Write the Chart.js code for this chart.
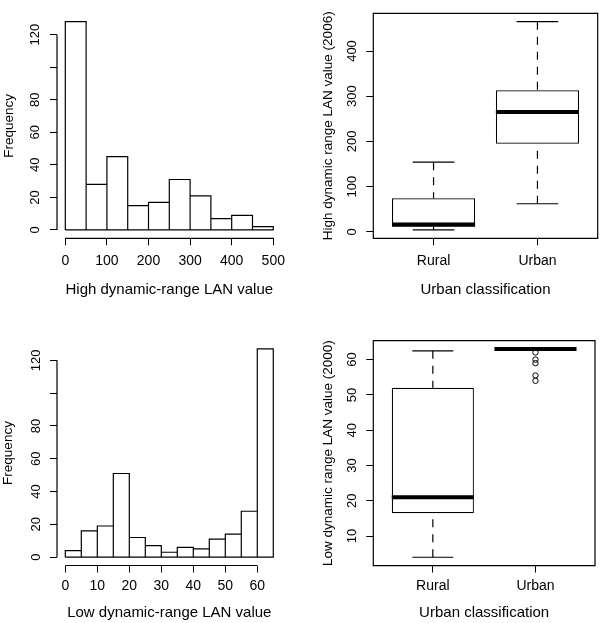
<!DOCTYPE html>
<html>
<head>
<meta charset="utf-8">
<script src="https://cdn.jsdelivr.net/npm/chart.js@4.4.1/dist/chart.umd.min.js"></script>
<style>
  body { margin: 0; background: #fff; }
  #wrap { position: relative; width: 600px; height: 623px; background: #fff; }
  canvas { position: absolute; }
</style>
</head>
<body>
<div id="wrap">
  <canvas id="histHigh" width="300" height="305" style="left:0;top:0"></canvas>
  <canvas id="boxHigh" width="300" height="305" style="left:300px;top:0"></canvas>
  <canvas id="histLow" width="300" height="318" style="left:0;top:305px"></canvas>
  <canvas id="boxLow" width="300" height="318" style="left:300px;top:305px"></canvas>
</div>
<script>
// histogram, high dynamic-range LAN
const highBreaks = [0, 50, 100, 150, 200, 250, 300, 350, 400, 450, 500];
const highCounts = [128, 28, 45, 15, 17, 31, 21, 7, 9, 2];
const highXTicks = [0, 100, 200, 300, 400, 500];

// histogram, low dynamic-range LAN
const lowBreaks = [0, 5, 10, 15, 20, 25, 30, 35, 40, 45, 50, 55, 60, 65];
const lowCounts = [4, 16, 19, 51, 12, 7, 3, 6, 5, 11, 14, 28, 127];
const lowXTicks = [0, 10, 20, 30, 40, 50, 60];

const freqTicks = [0, 20, 40, 60, 80, 100, 120];
const freqTickLabels = ['0', '20', '40', '60', '80', '', '120'];

// boxplots by urban classification
const groups = ['Rural', 'Urban'];

const highLower = [4, 62];
const highQ1 = [11, 195];
const highMedian = [16, 265];
const highQ3 = [74, 313];
const highUpper = [154, 465];
const highOut = [[], []];
const highYTicks = [0, 100, 200, 300, 400];

const lowLower = [4, 63];
const lowQ1 = [16.5, 63];
const lowMedian = [21, 63];
const lowQ3 = [52, 63];
const lowUpper = [62.5, 63];
const lowOut = [[], [62, 60, 59, 55.5, 54]];
const lowYTicks = [10, 20, 30, 40, 50, 60];

const FONT = '"Liberation Sans", Arial, Helvetica, sans-serif';

// R pads the data range by 4% on each side
function padRange(lo, hi) {
  const d = (hi - lo) * 0.04;
  return [lo - d, hi + d];
}

// R style axes: line only between first and last tick, or a full box
function rAxes(frame) {
  return {
    id: 'rAxes',
    afterDraw(chart) {
      const ctx = chart.ctx, a = chart.chartArea;
      const x = chart.scales.x, y = chart.scales.y;
      ctx.save();
      ctx.strokeStyle = '#000';
      ctx.lineWidth = 1.2;
      ctx.beginPath();
      if (frame) {
        ctx.rect(a.left, a.top, a.right - a.left, a.bottom - a.top);
      } else {
        const xt = x.ticks, yt = y.ticks;
        ctx.moveTo(x.getPixelForValue(xt[0].value), a.bottom);
        ctx.lineTo(x.getPixelForValue(xt[xt.length - 1].value), a.bottom);
        ctx.moveTo(a.left, y.getPixelForValue(yt[0].value));
        ctx.lineTo(a.left, y.getPixelForValue(yt[yt.length - 1].value));
      }
      ctx.stroke();
      ctx.restore();
    }
  };
}

function axis(dir, range, ticks, labels, title, lay) {
  const isX = dir === 'x';
  return {
    type: 'linear',
    position: isX ? 'bottom' : 'left',
    min: range[0],
    max: range[1],
    offset: false,
    afterBuildTicks: s => { s.ticks = ticks.map(v => ({ value: v })); },
    afterFit: s => { if (isX) s.height = lay.xHeight; else s.width = lay.yWidth; },
    border: { display: false },
    grid: { display: true, offset: false, drawOnChartArea: false, drawTicks: true, tickLength: 7, color: '#000', lineWidth: 1 },
    ticks: {
      autoSkip: false,
      color: '#000',
      font: { family: FONT, size: isX ? 14 : 13 },
      padding: isX ? lay.xTickPad : lay.yTickPad,
      minRotation: isX ? 0 : 90,
      maxRotation: isX ? 0 : 90,
      crossAlign: isX ? 'near' : 'center',
      callback: (v, i) => labels[i]
    },
    title: {
      display: true,
      text: title,
      color: '#000',
      font: { family: FONT, size: isX ? 15 : 13.5 },
      padding: isX ? { top: 0, bottom: lay.xTitlePad } : { top: lay.yTitlePad, bottom: 0 }
    }
  };
}

function common(lay, scales) {
  return {
    responsive: false,
    animation: false,
    devicePixelRatio: 1,
    events: [],
    layout: { padding: { top: lay.top, right: lay.right, left: 0, bottom: 0 } },
    plugins: { legend: { display: false }, tooltip: { enabled: false } },
    scales: scales
  };
}

function histogram(id, breaks, counts, xTicks, xTitle, lay) {
  const centers = counts.map((c, i) => (breaks[i] + breaks[i + 1]) / 2);
  const xr = padRange(breaks[0], breaks[breaks.length - 1]);
  const yr = padRange(0, Math.max(...counts));
  // outline of the bars, so that shared edges get a single line
  const edge = [{ x: breaks[0], y: 0 }];
  counts.forEach((c, i) => {
    edge.push({ x: breaks[i], y: c }, { x: breaks[i + 1], y: c }, { x: breaks[i + 1], y: 0 });
  });
  edge.push({ x: breaks[0], y: 0 });
  new Chart(document.getElementById(id), {
    type: 'bar',
    data: {
      datasets: [
        { data: counts.map((c, i) => ({ x: centers[i], y: c })), backgroundColor: '#fff',
          borderWidth: 0, barPercentage: 1, categoryPercentage: 1, order: 2 },
        { type: 'line', data: edge, borderColor: '#000', borderWidth: 1.2, borderJoinStyle: 'miter',
          pointRadius: 0, pointHitRadius: 0, fill: false, tension: 0, order: 1 }
      ]
    },
    options: common(lay, {
      x: axis('x', xr, xTicks, xTicks.map(String), xTitle, lay),
      y: axis('y', yr, freqTicks, freqTickLabels, 'Frequency', lay)
    }),
    plugins: [rAxes(false)]
  });
}

function boxplot(id, lower, q1, med, q3, upper, outs, yTicks, yTitle, lay) {
  const xs = groups.map((g, i) => i + 1);
  const all = lower.concat(upper, ...outs);
  const yr = padRange(Math.min(...all), Math.max(...all));
  const xr = padRange(0.5, groups.length + 0.5);
  const boxes = [], whisk = [], caps = [], meds = [], pts = [];
  xs.forEach((x, i) => {
    boxes.push({ x: x, y: [q1[i], q3[i]] });
    whisk.push({ x: x, y: upper[i] }, { x: x, y: q3[i] }, { x: x, y: null },
               { x: x, y: lower[i] }, { x: x, y: q1[i] }, { x: x, y: null });
    caps.push({ x: x - 0.2, y: upper[i] }, { x: x + 0.2, y: upper[i] }, { x: x, y: null },
              { x: x - 0.2, y: lower[i] }, { x: x + 0.2, y: lower[i] }, { x: x, y: null });
    meds.push({ x: x - 0.4, y: med[i] }, { x: x + 0.4, y: med[i] }, { x: x, y: null });
    outs[i].forEach(v => pts.push({ x: x, y: v }));
  });
  const line = { type: 'line', borderColor: '#000', pointRadius: 0, pointHitRadius: 0, fill: false, tension: 0 };
  new Chart(document.getElementById(id), {
    type: 'bar',
    data: {
      datasets: [
        { data: boxes, backgroundColor: '#fff', borderColor: '#000', borderWidth: 1.2, borderSkipped: false,
          inflateAmount: 0, barPercentage: 0.8, categoryPercentage: 1, order: 4 },
        Object.assign({}, line, { data: whisk, borderWidth: 1.2, borderDash: [8, 7], order: 3 }),
        Object.assign({}, line, { data: caps, borderWidth: 1.2, order: 2 }),
        Object.assign({}, line, { data: meds, borderWidth: 4, borderCapStyle: 'butt', order: 1 }),
        { type: 'scatter', data: pts, pointRadius: 2.7, pointStyle: 'circle', pointBorderWidth: 1,
          pointBorderColor: '#000', pointBackgroundColor: 'rgba(255,255,255,0)', order: 0 }
      ]
    },
    options: common(lay, {
      x: axis('x', xr, xs, groups, 'Urban classification', lay),
      y: axis('y', yr, yTicks, yTicks.map(String), yTitle, lay)
    }),
    plugins: [rAxes(true)]
  });
}

histogram('histHigh', highBreaks, highCounts, highXTicks, 'High dynamic-range LAN value',
  { top: 13.3, right: 18.4, xHeight: 66.7, yWidth: 57, xTickPad: 7.8, xTitlePad: 6, yTickPad: 3.6, yTitlePad: 0.9 });

boxplot('boxHigh', highLower, highQ1, highMedian, highQ3, highUpper, highOut, highYTicks,
  'High dynamic range LAN value (2006)',
  { top: 13.3, right: 2.3, xHeight: 66.7, yWidth: 73.3, xTickPad: 7.8, xTitlePad: 6, yTickPad: 2.7, yTitlePad: 20.2 });

histogram('histLow', lowBreaks, lowCounts, lowXTicks, 'Low dynamic-range LAN value',
  { top: 35.5, right: 18.4, xHeight: 57.5, yWidth: 57, xTickPad: 5.1, xTitlePad: 0.7, yTickPad: 2.4, yTitlePad: 0 });

boxplot('boxLow', lowLower, lowQ1, lowMedian, lowQ3, lowUpper, lowOut, lowYTicks,
  'Low dynamic range LAN value (2000)',
  { top: 35.7, right: 2.3, xHeight: 57.4, yWidth: 73.3, xTickPad: 5.1, xTitlePad: 0.7, yTickPad: 6.4, yTitlePad: 20.2 });
</script>
</body>
</html>
